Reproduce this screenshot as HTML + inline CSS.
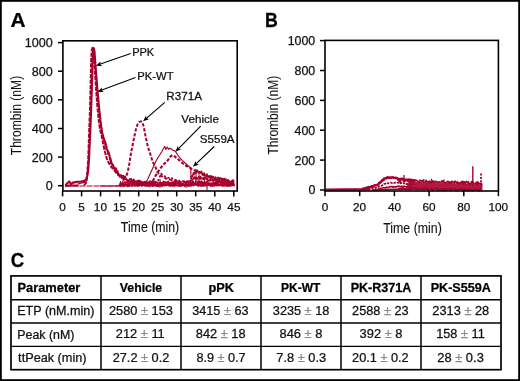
<!DOCTYPE html>
<html><head><meta charset="utf-8"><style>
html,body{margin:0;padding:0;background:#fff;width:520px;height:381px;overflow:hidden;font-family:"Liberation Sans",sans-serif;}
svg{display:block;will-change:transform;}
</style></head><body>
<svg width="520" height="381" viewBox="0 0 520 381">
<rect x="0" y="0" width="520" height="381" fill="#fff"/>
<rect x="0.9" y="0.9" width="518.2" height="379.2" fill="none" stroke="#000" stroke-width="1.8"/>
<g font-family="Liberation Sans, sans-serif">
<text font-size="19.4" font-weight="bold" fill="#000" stroke="#000" stroke-width="0.25" transform="translate(10.48 26.80) scale(1.0771 1.0)">A</text>
<text font-size="19.4" font-weight="bold" fill="#000" stroke="#000" stroke-width="0.25" transform="translate(265.00 26.65) scale(0.9145 1.0)">B</text>
<text font-size="19.4" font-weight="bold" fill="#000" stroke="#000" stroke-width="0.25" transform="translate(10.73 267.10) scale(0.9619 1.0)">C</text>
</g>
<polyline points="65.4,186 78,186 100,186 140,186" fill="none" stroke="#a8002e" stroke-width="1.1" stroke-linejoin="round" stroke-dasharray="6 1"/>
<polyline points="65.4,186.2 69,185.6 75,185.4 78.5,185.6" fill="none" stroke="#a8002e" stroke-width="2.0" stroke-linejoin="round"/>
<polyline points="65.4,185.8 67,183.5 69.2,181.5 70.8,184 73,182.7 77,181.9 80.8,181.5 84.6,180.8 86.3,179.2 87.2,176 88.2,170 88.9,160 89.6,145 90.3,130 90.9,115 91.4,100 91.9,85 92.4,70 92.8,57 93.2,50 93.8,48.2 94.5,52 95.2,62 96.2,75 97.2,88 98.3,100 99.5,112 100.8,124 102.2,133 103.5,138 105,142.1" fill="none" stroke="#a8002e" stroke-width="2.2" stroke-linejoin="round"/>
<polyline points="105,141 105.2,144.8 105.4,142.2 105.6,145.4 105.8,143.7 106,145.2 106.2,149 106.5,146.6 106.7,149.2 107,149.2 107.2,150 107.5,151 107.8,150.6 108.2,154.1 108.5,152 108.8,153.4 109.1,153.5 109.4,155.3 109.7,156.8 110,159.6 110.2,158.3 110.4,158.1 110.6,159.4 110.8,163.2 111,160.3 111.5,163.4 112,163.4 112.5,165.4 113,164.8 113.4,166.9 113.8,166.8 114.3,168.1 114.7,169.8 115.2,169.2 115.6,168.2 116.1,168.6 116.5,172.8 117,171.7 117.6,171.2 118.2,174.9 118.7,174.1 119.5,175.4 120.2,176.8 121,175.1 121.7,175.9 122.4,178.4 123.1,175.8 124.1,178.8 125,176.5 126,179.3 126.9,179.6 127.7,181 128.6,180.9 129.4,179.8 130.3,178.9 131.2,179.1 132,180.9 132.9,181.1 133.7,179.6 134.6,183.1 135.4,181.8 136.3,182.8 137.2,181 138.2,181.3 139.1,180.5 140,182 140.8,181.7 141.6,182.5 142.4,182.3 143.2,184.3 144,184.6 144.9,181.8 145.7,182.8 146.6,181.9 147.4,184 148.3,185.3 149.1,182.3 150,183.6" fill="none" stroke="#a8002e" stroke-width="2.0" stroke-linejoin="round"/>
<polyline points="77.7,184.2 80,183.4 82.3,182.7 85.4,182.3 86.5,180.5 87.2,177" fill="none" stroke="#a8002e" stroke-width="1.4" stroke-linejoin="round"/>
<polyline points="84,185.5 86,183 86.9,178 87.5,170 88.2,160 88.7,145 89.2,130 89.8,115 90.2,100 90.6,85 90.9,70 91.3,57 91.8,50 92.5,47.8 93.4,48.5 94,55 94.7,68 95.6,82 96.5,95 97.5,108 98.7,120 100.1,130 101.5,135 103.3,144.5 105,152 106.8,158.6 108.5,162.5 110.4,165.7 112.5,168.3 114.5,170.5 117,173.5 120,176.5 124,179 128,181 134,183 140,184.5 150,185.3" fill="none" stroke="#a8002e" stroke-width="2.0" stroke-linejoin="round" stroke-dasharray="4.2 1.2"/>
<polyline points="100,186 116,185.9 119.5,185.6 120.6,185.3 122.2,182.5 123.7,179.7" fill="none" stroke="#a8002e" stroke-width="1.1" stroke-linejoin="round"/>
<polyline points="123.7,179.7 125.5,177 126.5,175.7 127.7,171.8 128.9,166.5 130,159.5 131,153 132.4,146 133.6,140 134.8,134.5 136,129 137.4,124.8 139,122.2 140.8,121.3 142.3,122.5 143.4,125.5 144.4,130 145.3,135 146.3,139.8 147.3,144.4 148.6,148.8 149.9,152.8 151.2,157 152.5,161.2 154,164.2 155.6,167.4 157.3,171.7 159.5,174.7 162,176.5 166,178.5 171.6,180 180,182 190,183.6 200,184.6 235,185.3" fill="none" stroke="#a8002e" stroke-width="2.0" stroke-linejoin="round" stroke-dasharray="3.3 1.7"/>
<polyline points="140,184.5 143,184 145.4,183.2 148,178.5 150.5,173 153,167.5 155.5,162 158,157.5 160,154.5 162,151.3 163.5,148.5 164.7,146.3 165.8,149.5 167.2,147 168.5,149.3 170,148.2 171.5,149.3 173,150.2 174.5,150.6 176,152.2 178,155.3 180,158 182.5,160.6 184.5,162.5 186.5,164.3 189,166.5 190.8,168.7 191,180.8" fill="none" stroke="#a8002e" stroke-width="1.15" stroke-linejoin="round"/>
<polyline points="150,185 152.5,181.5 155.2,176.4 157.4,173 159.5,169.5 161.6,166.8 163.8,164.3 165.5,162.5 167.3,160.9 169.5,158 171,156 172.5,155.2 174.5,156.3 176.5,158 178.5,159.6 180.5,161.5 182.9,163.5 185.5,165.3 188,166.9 190.2,167.8 192.4,169.5 195,170.4 198,171.3 201,173.5" fill="none" stroke="#a8002e" stroke-width="2.1" stroke-linejoin="round" stroke-dasharray="3.2 1.7"/>
<polyline points="155,183.5 158,180.5 161.2,173.8 164.3,176 167.9,177.8 171.6,178.2 176,180 181,181 186,181.5 191,181" fill="none" stroke="#a8002e" stroke-width="1.8" stroke-linejoin="round" stroke-dasharray="2 1.8"/>
<polyline points="119,184.4 119.6,184.6 120.1,185.4 120.7,186.2 121.3,184.4 121.9,184.2 122.4,184.5 123,186 123.6,184 124.2,185.9 124.8,185.6 125.3,183.8 125.9,185.1 126.5,184.7 127.1,184.6 127.7,186.4 128.2,183.4 128.8,183.2 129.4,186.1 130,184.3 130.6,183.6 131.1,184 131.7,184.1 132.2,186 132.8,183.6 133.3,183.6 133.9,184.7 134.4,184.6 135,185.9 135.6,185.5 136.1,183.9 136.7,183.4 137.2,185.4 137.8,185.9 138.3,182.8 138.9,185 139.4,185.4 140,184.7 140.6,183.3 141.1,185.2 141.7,185 142.2,183.3 142.8,184.7 143.3,183.4 143.9,182.8 144.4,183.8 145,183.8 145.6,184 146.1,184.8 146.7,185.4 147.2,185.8 147.8,185.9 148.3,185.9 148.9,185.3 149.4,183.8 150,183.4 150.6,184.8 151.1,184.6 151.7,185 152.2,183.1 152.8,183.5 153.3,185.8 153.9,184.8 154.4,185.1 155,183.2 155.6,184.2 156.1,185.8 156.7,185 157.2,186.1 157.8,183.6 158.3,184.4 158.9,185.5 159.4,184.4 160,185.5 160.6,184.8 161.1,183.4 161.7,183.3 162.2,186.1 162.8,183.3 163.3,183.6 163.9,184 164.4,185.2 165,185.6 165.6,184.4 166.1,184.5 166.7,185.4 167.2,183.7 167.8,184 168.3,184.8 168.9,184.9 169.4,182.9 170,183.2 170.6,183.3 171.1,185.1 171.7,185.1 172.2,186 172.8,185.3 173.3,183.7 173.9,185.3 174.4,186 175,184 175.6,182.9 176.1,184.1 176.7,183.8 177.2,183.5 177.8,183.1 178.3,183.4 178.9,185.7 179.4,183.1 180,185 180.6,183.6 181.1,183.6 181.7,185.6 182.2,183.9 182.8,183.5 183.3,184.4 183.9,185.1 184.4,184.6 185,185.7 185.6,184.2 186.1,184.6 186.7,185.2 187.2,184.3 187.8,185.1 188.3,184.3 188.9,183.2 189.4,183.2 190,185.3 190.6,185.2 191.1,185.8 191.7,185 192.2,184.6 192.8,183.3 193.3,185.5 193.9,183.1 194.4,184.1 195,183.2 195.6,183.9 196.1,183.7 196.7,184 197.2,184.9 197.8,184.4 198.3,183.4 198.9,185.1 199.4,185 200,185.2 200.6,182.7 201.1,184.6 201.7,185.5 202.2,183.5 202.8,183.3 203.3,185.3 203.9,183.8 204.4,184 205,185.3 205.6,183.9 206.1,183.4 206.7,183.4 207.2,183.9 207.8,185 208.3,183.9 208.9,185.2 209.4,183 210,183.6 210.6,184.8 211.1,184.3 211.7,184.4 212.2,185.8 212.8,183.7 213.3,183.4 213.9,182.9 214.4,184.3 215,183.8 215.6,184.3 216.1,182.8 216.7,182.8 217.2,184 217.8,185.2 218.3,183.8 218.9,185.7 219.4,184.7 220,184.1 220.6,185.3 221.1,183.5 221.7,184.7 222.2,185.5 222.8,184.5 223.4,183.8 223.9,183.1 224.5,184.6 225,183.4 225.6,184 226.2,184.5 226.7,185.8 227.3,185 227.8,184.5 228.4,185.5 229,183.8 229.5,184 230.1,185 230.6,184.6 231.2,183.5 231.8,184.1 232.3,185.4 232.9,183.6 233.4,185.1 234,184.4" fill="none" stroke="#a8002e" stroke-width="1.7" stroke-linejoin="round"/>
<polyline points="120,183.9 120.6,181.7 121.1,183.6 121.7,184.3 122.2,184.3 122.8,183.1 123.3,183.5 123.9,182.5 124.4,183 125,181.5 125.6,183.5 126.1,183.2 126.7,182 127.2,182.3 127.8,183.6 128.3,182.5 128.9,184.3 129.4,184.3 130,183.8 130.6,181.1 131.1,181.1 131.7,181.8 132.2,182.1 132.8,183.3 133.3,183.8 133.9,182.8 134.4,183.1 135,182.9 135.6,180.9 136.1,182.7 136.7,181.6 137.2,182.3 137.8,180.8 138.3,183.2 138.9,184.1 139.4,181 140,182.9 140.6,180.9 141.1,182.1 141.7,181.4 142.2,184 142.8,183.5 143.3,184.2 143.9,181.7 144.4,183.6 145,183.5 145.6,182.9 146.1,184.3 146.7,183.3 147.2,182.1 147.8,183.7 148.3,182.9 148.9,181.9 149.4,183.4 150,181.4 150.6,182.8 151.1,183.2 151.7,181.2 152.2,183.5 152.8,181.5 153.3,183.5 153.9,182.4 154.4,181.3 155,184.8 155.6,181.4 156.1,181.8 156.7,183 157.2,182.1 157.8,183.1 158.3,182.9 158.9,183.3 159.4,183.2 160,182.3 160.6,182 161.1,183.7 161.7,182.7 162.2,183 162.8,184.4 163.3,181.2 163.9,182.1 164.4,183.1 165,181.3 165.6,183.8 166.1,182.5 166.7,182.2 167.2,181.8 167.8,184.5 168.3,181.2 168.9,184 169.4,183.5 170,184.2 170.6,183.5 171.1,182.2 171.7,182.9 172.2,184.3 172.8,181.1 173.3,184 173.9,183.3 174.4,181.6 175,184.4 175.6,182 176.1,180.9 176.7,181.8 177.2,182.7 177.8,180.9 178.3,183 178.9,182.4 179.4,182 180,183.5 180.6,183 181.1,184.3 181.7,183.9 182.2,183.9 182.8,184.1 183.3,183.8 183.9,182.5 184.4,181 185,182.3 185.6,182.9 186.1,184.2 186.7,183 187.2,182.7 187.8,181 188.3,183 188.9,180.8 189.4,181.1 190,180.8 190.6,183.2 191.1,184 191.7,182.8 192.2,181 192.8,183.3 193.3,181.3 193.9,183.2 194.4,183.1 195,184.1 195.6,181.3 196.1,181.6 196.7,181.9 197.2,181 197.8,184.2 198.3,183 198.9,181.2 199.4,182.5 200,181.2 200.6,184.3 201.1,182.1 201.7,180.9 202.2,183.6 202.8,182.1 203.3,183.3 203.9,183.8 204.4,181.2 205,183 205.6,184.4 206.1,181.9 206.7,182 207.2,183.5 207.8,181.3 208.3,184.1 208.9,184 209.4,184.6 210,184.2 210.6,183.3 211.1,182.9 211.7,183.2 212.2,183.5 212.8,184.8 213.3,181.8 213.9,183.1 214.4,182.9 215,182.2 215.6,181.9 216.1,184.1 216.7,183.4 217.2,183.8 217.8,182.3 218.3,183.1 218.9,182 219.4,181.9 220,181.9 220.6,183.7 221.1,184.5 221.7,183.5 222.2,184.2 222.8,181.7 223.4,183.3 223.9,181.9 224.5,183.3 225,182.3 225.6,182.3 226.2,184.7 226.7,183.4 227.3,182.3 227.8,183.2 228.4,182.4 229,184.3 229.5,182.8 230.1,184.4 230.6,183.5 231.2,183.7 231.8,183.6 232.3,183.5 232.9,181.6 233.4,184.2 234,183.2" fill="none" stroke="#a8002e" stroke-width="1.3" stroke-linejoin="round"/>
<polyline points="140,185.1 140.6,184.8 141.1,184.6 141.7,186.4 142.2,185.6 142.8,185.9 143.3,185.5 143.9,185.1 144.4,186 145,185.6 145.6,186.1 146.1,185.8 146.7,186.2 147.2,185.3 147.8,184.6 148.3,184.6 148.9,185.9 149.4,184.6 150,185.8 150.6,185.7 151.1,184.3 151.7,186.1 152.2,184.3 152.8,186.3 153.3,186.2 153.9,184.7 154.4,185.9 155,186 155.6,184.5 156.1,185.8 156.7,184.5 157.2,186.4 157.8,185.9 158.3,186.6 158.9,184.3 159.4,185 160,185.7 160.6,185.7 161.1,184.6 161.7,186.3 162.2,186.2 162.8,184.9 163.3,184.5 163.9,185.8 164.4,185.2 165,185.8 165.6,185.4 166.1,185.1 166.7,184.2 167.2,184.5 167.8,185.3 168.3,185.9 168.9,185.2 169.4,185.9 170,185.4 170.6,186.3 171.1,185.7 171.7,184.9 172.2,184.5 172.8,184.3 173.3,184.2 173.9,186.2 174.4,186.2 175,185.9 175.6,184.4 176.1,185.7 176.7,184.4 177.2,186.2 177.8,185.7 178.3,185.9 178.9,185.6 179.4,185.1 180,186.1 180.6,186.4 181.1,184.7 181.7,185.1 182.2,185.9 182.8,185.7 183.3,185.1 183.9,185.2 184.4,186.4 185,184.8 185.6,184.6 186.1,185.7 186.7,184.8 187.2,186.3 187.8,184.9 188.3,186.3 188.9,185 189.4,186.2 190,185.9 190.6,185.9 191.1,184.6 191.7,184.5 192.2,184.2 192.8,184.5 193.3,185.7 193.9,184.3 194.4,184.7 195,185.5 195.6,184.5 196.1,184.9 196.7,184.6 197.2,185.7 197.8,184.4 198.3,186.5 198.9,185.5 199.4,185.8 200,185.4 200.6,185.3 201.1,186.4 201.7,186.2 202.2,186.1 202.8,184.2 203.3,185.5 203.9,186.4 204.4,185.6 205,185.3 205.6,185.7 206.1,184.5 206.7,185.8 207.2,186 207.8,184.3 208.3,185.3 208.9,185.5 209.4,184.9 210,185.7 210.6,186.3 211.1,186.3 211.7,184.8 212.2,184.5 212.8,186.1 213.3,185.6 213.9,186.1 214.4,186.2 215,184.8 215.6,185.5 216.1,184.8 216.7,186 217.2,185.8 217.8,184.7 218.3,185.3 218.9,185.5 219.4,184.7 220,184.5 220.6,185.2 221.1,184.3 221.7,185.3 222.2,186.3 222.8,186.1 223.4,184.2 223.9,186.1 224.5,185.8 225,185.8 225.6,184.1 226.2,185.9 226.7,184.5 227.3,186 227.8,184.8 228.4,184.9 229,184.4 229.5,186.1 230.1,184.6 230.6,186.1 231.2,185.3 231.8,184.4 232.3,185.6 232.9,185.3 233.4,184.1 234,185.2" fill="none" stroke="#a8002e" stroke-width="1.2" stroke-linejoin="round"/>
<polyline points="191,176.3 191.3,178.3 191.6,175.9 191.9,176.6 192.1,176.9 192.4,176.9 192.7,175.3 193,175 193.3,172.8 193.6,173.9 193.9,173.3 194.1,174.6 194.4,173 194.7,173.3 195,171.8 195.5,170.8 196,173.1 196.5,173 197,171.3 197.5,170.2 198,171.7 198.5,171.5 199,172.5 199.4,172.1 199.9,172.1 200.3,172.6 200.8,172.2 201.2,171.3 201.7,171.6 202.1,175 202.6,174.9 203,173.3 203.5,175.6 204,174.5 204.5,173.1 205,176 205.5,175.2 206,176.7 206.5,176 207,174 207.5,176.1 208,176.9 208.5,177.5 209,175.7 209.5,176.6 210,177.4 210.5,175.7 211,178.4 211.5,178.3 212,175.9 212.5,178 213,177.3 213.5,176.7 214,178.4 214.5,179.8 215,178.4 215.5,177 216,178.5 216.5,179.6 217,180.4 217.5,179.6 218,177.3 218.5,180.8 219,179.6 219.5,177.8 220,178 220.5,178 221,180.2 221.5,178.4 222,180.9 222.5,178.4 223,180.1 223.5,179.8 224,178.5 224.5,178.4 225,181.8 225.5,182.1 226,179.1 226.5,181.4 227,182.4 227.5,182.1 228,182.1 228.5,180.2 229,181.7 229.5,180.9 230,182.6 230.5,181.8 231,182.4 231.5,182.5 232,180.8 232.5,182.1 233,179.9 233.5,180.4 234,181.5" fill="none" stroke="#a8002e" stroke-width="1.5" stroke-linejoin="round"/>
<polyline points="191,180.5 191.4,180.5 191.8,180.3 192.2,179.6 192.7,179.9 193.1,179.2 193.5,177.8 193.9,178.7 194.3,177.1 194.8,177.1 195.2,177.3 195.6,179.3 196,177.4 196.5,177.7 197,178.9 197.5,178.9 198,177.9 198.5,176.8 199,177.8 199.5,177.3 200,179.3 200.5,176.4 201,177.5 201.5,178.6 202,178.3 202.5,178.3 203,179.1 203.5,177.5 204,179.6 204.5,180 205,177.3 205.5,178.3 206,178.6 206.5,178.8 207,179.4 207.5,178.6 208,180 208.5,180.8 209,181 209.5,180.8 210,178.8 210.5,180.6 211,180.7 211.5,180.3 212,180.6 212.5,179.4 213,181 213.5,179.4 214,180.4 214.5,179.5 215,180.5 215.5,179 216,179.9 216.5,181.4 217,179.8 217.5,181.4 218,181.7 218.5,181.1 219,181.2 219.5,179.9 220,180.9 220.5,182.4 221,182.6 221.5,181.2 222,180.9 222.5,182.7 223,181.4 223.5,182.2 224,180 224.5,180.6 225,182.4 225.5,181.6 226,182.4 226.5,181.3 227,182.9 227.5,180.1 228,180.9 228.5,182.2 229,181.8 229.5,182.4 230,181.8 230.5,182.6 231,182.9 231.5,181.4 232,180.5 232.5,181.2 233,181.6 233.5,183.7 234,182.2" fill="none" stroke="#a8002e" stroke-width="1.5" stroke-linejoin="round"/>
<line x1="207" y1="177" x2="207" y2="190" stroke="#a8002e" stroke-width="1.1"/>
<line x1="196" y1="169" x2="196" y2="181" stroke="#a8002e" stroke-width="1.1"/>
<line x1="199" y1="171" x2="199" y2="183" stroke="#a8002e" stroke-width="1.1"/>
<line x1="186" y1="181" x2="186" y2="188" stroke="#a8002e" stroke-width="1.1"/>
<line x1="160" y1="179" x2="160" y2="188" stroke="#a8002e" stroke-width="1.1"/>
<line x1="150" y1="180" x2="150" y2="187.5" stroke="#a8002e" stroke-width="1.1"/>
<line x1="217" y1="177" x2="217" y2="186" stroke="#a8002e" stroke-width="1.1"/>
<line x1="228" y1="179" x2="228" y2="187" stroke="#a8002e" stroke-width="1.1"/>
<g stroke="#000" fill="none">
<rect x="62.9" y="40.8" width="174.3" height="150.2" stroke-width="1.6"/>
<line x1="58" y1="185.7" x2="62.9" y2="185.7" stroke-width="1.5"/>
<line x1="58" y1="157.1" x2="62.9" y2="157.1" stroke-width="1.5"/>
<line x1="58" y1="128.5" x2="62.9" y2="128.5" stroke-width="1.5"/>
<line x1="58" y1="99.8" x2="62.9" y2="99.8" stroke-width="1.5"/>
<line x1="58" y1="71.2" x2="62.9" y2="71.2" stroke-width="1.5"/>
<line x1="58" y1="42.6" x2="62.9" y2="42.6" stroke-width="1.5"/>
<line x1="62.6" y1="191.0" x2="62.6" y2="196.4" stroke-width="1.5"/>
<line x1="81.6" y1="191.0" x2="81.6" y2="196.4" stroke-width="1.5"/>
<line x1="100.6" y1="191.0" x2="100.6" y2="196.4" stroke-width="1.5"/>
<line x1="119.7" y1="191.0" x2="119.7" y2="196.4" stroke-width="1.5"/>
<line x1="138.7" y1="191.0" x2="138.7" y2="196.4" stroke-width="1.5"/>
<line x1="157.7" y1="191.0" x2="157.7" y2="196.4" stroke-width="1.5"/>
<line x1="176.7" y1="191.0" x2="176.7" y2="196.4" stroke-width="1.5"/>
<line x1="195.7" y1="191.0" x2="195.7" y2="196.4" stroke-width="1.5"/>
<line x1="214.8" y1="191.0" x2="214.8" y2="196.4" stroke-width="1.5"/>
<line x1="233.8" y1="191.0" x2="233.8" y2="196.4" stroke-width="1.5"/>
</g>
<g font-family="Liberation Sans, sans-serif">
<text font-size="12.6" fill="#111" stroke="#111" stroke-width="0.25" transform="translate(45.68 190.15) scale(1.0000 1.0)">0</text>
<text font-size="12.6" fill="#111" stroke="#111" stroke-width="0.25" transform="translate(31.66 161.53) scale(1.0000 1.0)">200</text>
<text font-size="12.6" fill="#111" stroke="#111" stroke-width="0.25" transform="translate(31.66 132.91) scale(1.0000 1.0)">400</text>
<text font-size="12.6" fill="#111" stroke="#111" stroke-width="0.25" transform="translate(31.66 104.29) scale(1.0000 1.0)">600</text>
<text font-size="12.6" fill="#111" stroke="#111" stroke-width="0.25" transform="translate(31.66 75.67) scale(1.0000 1.0)">800</text>
<text font-size="12.6" fill="#111" stroke="#111" stroke-width="0.25" transform="translate(24.65 47.05) scale(1.0000 1.0)">1000</text>
<text font-size="11.8" fill="#111" stroke="#111" stroke-width="0.25" transform="translate(59.32 211.40) scale(1.0000 1.0)">0</text>
<text font-size="11.8" fill="#111" stroke="#111" stroke-width="0.25" transform="translate(78.35 211.40) scale(1.0000 1.0)">5</text>
<text font-size="11.8" fill="#111" stroke="#111" stroke-width="0.25" transform="translate(93.86 211.40) scale(1.0000 1.0)">10</text>
<text font-size="11.8" fill="#111" stroke="#111" stroke-width="0.25" transform="translate(112.90 211.40) scale(1.0000 1.0)">15</text>
<text font-size="11.8" fill="#111" stroke="#111" stroke-width="0.25" transform="translate(132.05 211.40) scale(1.0000 1.0)">20</text>
<text font-size="11.8" fill="#111" stroke="#111" stroke-width="0.25" transform="translate(151.09 211.40) scale(1.0000 1.0)">25</text>
<text font-size="11.8" fill="#111" stroke="#111" stroke-width="0.25" transform="translate(170.16 211.40) scale(1.0000 1.0)">30</text>
<text font-size="11.8" fill="#111" stroke="#111" stroke-width="0.25" transform="translate(189.20 211.40) scale(1.0000 1.0)">35</text>
<text font-size="11.8" fill="#111" stroke="#111" stroke-width="0.25" transform="translate(208.29 211.40) scale(1.0000 1.0)">40</text>
<text font-size="11.8" fill="#111" stroke="#111" stroke-width="0.25" transform="translate(227.33 211.40) scale(1.0000 1.0)">45</text>
<text font-size="14.6" fill="#111" stroke="#111" stroke-width="0.12" transform="translate(120.82 232.40) scale(0.8444 1.0)">Time (min)</text>
<text font-size="14.6" fill="#111" stroke="#111" stroke-width="0.05" transform="translate(20.60 155.27) rotate(-90) scale(0.8307 1)">Thrombin (nM)</text>
</g>
<line x1="130.7" y1="53.4" x2="100.4" y2="64.1" stroke="#000" stroke-width="1.1"/>
<polygon points="95.9,65.7 100.6,61.5 100.2,64.2 102.2,66.0" fill="#000"/>
<line x1="135.5" y1="77.5" x2="101.9" y2="90.0" stroke="#000" stroke-width="1.1"/>
<polygon points="97.4,91.7 102.0,87.4 101.7,90.1 103.7,91.9" fill="#000"/>
<line x1="164.8" y1="102.3" x2="146.7" y2="118.1" stroke="#000" stroke-width="1.1"/>
<polygon points="143.1,121.3 145.9,115.7 146.6,118.3 149.0,119.3" fill="#000"/>
<line x1="200.7" y1="126.1" x2="178.8" y2="148.3" stroke="#000" stroke-width="1.1"/>
<polygon points="175.4,151.7 177.8,145.9 178.6,148.4 181.2,149.3" fill="#000"/>
<line x1="214.3" y1="146.5" x2="196.5" y2="163.4" stroke="#000" stroke-width="1.1"/>
<polygon points="193.0,166.7 195.6,161.0 196.3,163.5 198.9,164.5" fill="#000"/>
<g font-family="Liberation Sans, sans-serif">
<text font-size="11" fill="#111" stroke="#111" stroke-width="0.25" transform="translate(132.19 56.20) scale(1.0015 1.0)">PPK</text>
<text font-size="11" fill="#111" stroke="#111" stroke-width="0.25" transform="translate(137.37 80.20) scale(1.0210 1.0)">PK-WT</text>
<text font-size="11" fill="#111" stroke="#111" stroke-width="0.25" transform="translate(166.34 100.00) scale(1.0577 1.0)">R371A</text>
<text font-size="11" fill="#111" stroke="#111" stroke-width="0.25" transform="translate(181.34 123.00) scale(1.0594 1.0)">Vehicle</text>
<text font-size="11" fill="#111" stroke="#111" stroke-width="0.25" transform="translate(199.78 143.40) scale(1.0552 1.0)">S559A</text>
</g>
<polyline points="325.5,189.6 345,189.5 362,189.3 370,188.8" fill="none" stroke="#a8002e" stroke-width="2.4" stroke-linejoin="round"/>
<polygon points="409,181.4 410.2,181.5 411.5,182 412.8,180.9 414,180.8 415.2,181.7 416.4,181.4 417.6,181.3 418.8,181.5 420,181.4 421.2,181.1 422.5,182.2 423.8,182.9 425,182.5 426.2,182.4 427.5,181.8 428.8,182.1 430,181.5 431.2,182.9 432.5,182 433.8,182 435,183.6 436.2,182.2 437.5,183.7 438.8,182.9 440,183.3 441.2,183 442.5,182.1 443.8,183.3 445,182.4 446.2,182.7 447.5,182.2 448.8,182.1 450,182.8 451.2,182 452.5,182.9 453.8,184 455,184.3 456.2,183.1 457.5,182.5 458.8,183 460,182.4 461.2,182.8 462.5,183.7 463.8,183.8 465,182.5 466.2,183.5 467.5,183.4 468.8,183.4 470,182.9 471.2,183.5 472.5,182.9 473.8,184.2 475,184.1 476.2,184.1 477.5,183.7 478.8,184.9 480,183.6 481.2,183.3 482.5,184 482.5,189.8 409,189.8 406,187.5" fill="#a8002e" fill-opacity="0.9"/>
<polyline points="362,189.1 362.8,188.8 363.6,189.3 364.4,188.7 365.2,188.1 366,188.6 366.8,187.7 367.6,187.5 368.4,187.1 369.2,187.4 370,187.3 370.8,186.9 371.6,186.2 372.4,186.6 373.2,186.4 374,185.6 374.8,185.3 375.6,185.3 376.4,185.3 377.2,184.9 378,184.6 378.6,183.9 379.2,182.9 379.9,182.8 380.5,182.1 381.2,181.6 382,180.8 382.7,179.8 383.4,180.1 384.1,178.8 384.8,178.6 385.8,178.1 386.7,178.3 387.5,177.3 388.4,177.7 389.2,177.9 390,177.5 391,177.9 392,177.4 393,177.5 394,177.7 395,177.9 396,178 397,178 398,179.1 399,179 400.1,179.1 401.2,179 402.1,178.9 403.1,179 404.1,179.9 405,179.9 405.8,179.7 406.7,180 407.5,180.4 408.3,179.5 409.2,180 410,180.1 410.8,180.1 411.7,180.4 412.5,180.2 413.3,180.2 414.2,181 415,180.7" fill="none" stroke="#a8002e" stroke-width="2.6" stroke-linejoin="round"/>
<polyline points="368,189.4 368.8,189.2 369.6,189.5 370.4,189 371.2,189 372,188.8 372.8,188.5 373.6,188.5 374.4,188.5 375.2,187.7 376,187.8 376.8,187.3 377.6,187.3 378.4,186.9 379.2,186.2 380,185.9 380.8,185.8 381.5,185.7 382.2,185.2 383,184.9 383.8,184 384.5,183.9 385.2,183.8 386,183.3 386.8,183 387.6,183.4 388.4,183 389.2,182.7 390,182.6 390.8,182.7 391.7,182.8 392.5,182.8 393.3,182.4 394.2,182.9 395,182.7 395.8,182.4 396.7,182.4 397.5,182.7 398.3,182.6 399.2,183.2 400,182.6 400.8,183.4 401.7,182.9 402.5,183.5 403.3,183.3 404.2,183.2 405,184 405.8,183.6 406.7,184.2 407.5,183.8 408.3,183.8 409.2,184.1 410,184 410.8,184.3 411.7,184.4 412.5,184.4 413.3,183.9 414.2,184.5 415,184.4" fill="none" stroke="#a8002e" stroke-width="1.7" stroke-linejoin="round" stroke-dasharray="2.5 1"/>
<polyline points="372,189.7 372.8,190.1 373.6,190.2 374.4,189.7 375.2,190 376,189.5 376.8,189.5 377.6,189.6 378.4,188.9 379.2,188.6 380,188.5 380.8,188.3 381.6,188.4 382.4,188 383.2,187.8 384,187.8 384.8,187.8 385.6,188 386.4,187.1 387.2,187.5 388,187.5 388.8,187.3 389.6,186.8 390.4,186.7 391.2,186.8 392,186.4 392.9,187.1 393.7,186.9 394.6,186.9 395.4,186.7 396.3,187 397.1,186.5 398,186.1 398.9,186.4 399.8,186.4 400.6,186.7 401.5,186.1 402.4,186.8 403.2,186.4 404.1,186.1 405,186.6 405.9,186.8 406.8,186.7 407.6,186.8 408.5,186.6 409.4,186.6 410.2,186.3 411.1,187.1 412,186.8" fill="none" stroke="#a8002e" stroke-width="1.6" stroke-linejoin="round"/>
<polyline points="376,190 390,189.4 400,189.2 412,189.2" fill="none" stroke="#a8002e" stroke-width="1.6" stroke-linejoin="round"/>
<polyline points="398,179.9 398.5,180.9 399,179 399.5,182.1 400,181.6 400.5,182.2 401,179.9 401.5,179.7 402,179.2 402.5,179.7 403,179.2 403.5,181.3 404,180.3 404.5,181.7 405,181.6 405.5,180.3 406,179.7 406.5,180.3 407,179.3 407.5,181.3 408,179.9 408.5,179.8 409,182.1 409.5,180.7 410,182.4 410.5,182.5 411,181.5 411.5,180.2 412,179.9 412.5,180.2 413,181.8 413.5,181.1 414,180.4 414.5,179.6 415,180.6 415.5,180.8 416,179.8 416.5,180.4 417,180.5 417.5,180.9 418,181.2 418.5,181.5 419,182.4 419.5,180.6 420,180 420.5,180.7 421,180.4 421.5,181.6 422,181.3 422.5,180.8 423,180.1 423.5,182.2 424,181.8 424.5,181.9 425,182.1 425.5,182.6 426,180 426.5,180.5 427,181.5 427.5,182.2 428,181.6 428.5,181.6 429,181 429.5,180.8 430,182.8 430.5,183.2 431,181.7 431.5,181.6 432,180.5 432.5,182.1 433,180.8 433.5,182.2 434,181.1 434.5,181.7 435,183 435.5,181.2 436,182 436.5,181.3 437,181.8 437.5,183.1 438,181.9 438.5,183.4 439,181.7 439.5,181.8 440,182.5 440.5,182 441,182.6 441.5,181.4 442,180.5 442.5,181.8 443,180.7 443.5,181.3 444,182.4 444.5,182.7 445,183.5 445.5,182.7 446,182.4 446.5,181.7 447,182.1 447.5,181.5 448,181 448.5,182.4 449,182.7 449.5,181.7 450,183.1 450.5,182.4 451,181.7 451.5,183.5 452,180.8 452.5,181.6 453,181.8 453.5,183 454,181.6 454.5,184 455,181.2 455.5,182.3 456,182.4 456.5,183.3 457,181.7 457.5,181.4 458,183.3 458.5,183.5 459,182.8 459.5,183.9 460,182.3 460.5,182.5 461,182.6 461.5,181.4 462,183.7 462.5,181.3 463,181.3 463.5,184 464,182.6 464.5,181.6 465,184 465.5,181.8 466,182.6 466.5,181.2 467,181.6 467.5,182.7 468,183.5 468.5,181.6 469,183.7 469.5,183.3 470,183.4 470.5,184.4 471,182.8 471.5,181.3 472,181.5 472.5,184.1 473,181.7 473.5,182.2 474,183.5 474.5,183.8 475,183.8 475.5,183.2 476,182.5 476.5,184.3 477,181.5 477.5,182.3 478,184.6 478.5,182.1 479,184.2 479.5,183.5 480,183.6 480.5,183.6 481,183 481.5,184.3 482,183.2" fill="none" stroke="#a8002e" stroke-width="1.3" stroke-linejoin="round"/>
<polyline points="398,188.1 398.5,188.5 399,188.7 399.5,188.5 400,188.7 400.5,188.5 401,188.6 401.5,188 402,187.8 402.5,188.1 403,189.2 403.5,187.7 404,188.3 404.5,188.5 405,188.8 405.5,188.5 406,189.4 406.5,189.6 407,188.8 407.5,188.1 408,189.5 408.5,189.4 409,188.7 409.5,189.4 410,189.5 410.5,189.7 411,188.3 411.5,188.2 412,189.4 412.5,188.4 413,188.4 413.5,188 414,189.4 414.5,188.3 415,188.2 415.5,189.1 416,188.1 416.5,189.5 417,188.1 417.5,189.9 418,188.2 418.5,188.3 419,188.9 419.5,189.5 420,189 420.5,189.4 421,188.5 421.5,189.7 422,188.4 422.5,188.9 423,189.7 423.5,188.9 424,188.2 424.5,189.5 425,188.3 425.5,188.9 426,188.8 426.5,189.1 427,188.4 427.5,190 428,189.8 428.5,189.3 429,188.8 429.5,189 430,188.7 430.5,189 431,189.2 431.5,189.7 432,188.4 432.5,190.1 433,190.1 433.5,189.3 434,189.4 434.5,188.5 435,188.7 435.5,188.4 436,188.5 436.5,189.8 437,188.7 437.5,189.7 438,189.9 438.5,189.2 439,189.7 439.5,189.6 440,189.6 440.5,189.6 441,189.7 441.5,188.7 442,190.4 442.5,188.8 443,188.7 443.5,188.9 444,190.1 444.5,190.4 445,190.4 445.5,188.7 446,189.2 446.5,190 447,188.7 447.5,189.3 448,189.6 448.5,189 449,189.1 449.5,189.4 450,188.8 450.5,190.3 451,189.5 451.5,188.9 452,189.5 452.5,189.3 453,189.8 453.5,188.7 454,189.3 454.5,188.7 455,189.7 455.5,189.5 456,190.1 456.5,189.8 457,189.6 457.5,189.8 458,189.2 458.5,189.6 459,189.4 459.5,189.5 460,189.4 460.5,188.6 461,189 461.5,189.8 462,188.9 462.5,189.4 463,190.2 463.5,189.6 464,190.2 464.5,189.3 465,188.6 465.5,189.5 466,190.2 466.5,189.6 467,189.4 467.5,190.4 468,189.4 468.5,190.5 469,190.1 469.5,189.1 470,190 470.5,190 471,189.9 471.5,190.1 472,189.5 472.5,190.2 473,189.9 473.5,190.3 474,190.3 474.5,189.9 475,189.8 475.5,189.2 476,188.9 476.5,189.7 477,189.7 477.5,189.5 478,189.8 478.5,190.5 479,190.5 479.5,190.6 480,189 480.5,189.2 481,190.5 481.5,190.5 482,189.8" fill="none" stroke="#a8002e" stroke-width="1.5" stroke-linejoin="round"/>
<line x1="404.0" y1="174.9" x2="404.0" y2="181" stroke="#a8002e" stroke-width="1.3"/>
<line x1="423.8" y1="179.0" x2="423.8" y2="183" stroke="#a8002e" stroke-width="1.3"/>
<line x1="431.5" y1="178.8" x2="431.5" y2="183" stroke="#a8002e" stroke-width="1.3"/>
<line x1="411" y1="178.5" x2="411" y2="182" stroke="#a8002e" stroke-width="1.3"/>
<line x1="444" y1="179.5" x2="444" y2="183" stroke="#a8002e" stroke-width="1.3"/>
<line x1="455" y1="180.5" x2="455" y2="183.5" stroke="#a8002e" stroke-width="1.3"/>
<line x1="463" y1="180.8" x2="463" y2="184" stroke="#a8002e" stroke-width="1.3"/>
<line x1="472.8" y1="166.2" x2="472.8" y2="186" stroke="#a8002e" stroke-width="1.4"/>
<line x1="481.0" y1="173.5" x2="481.0" y2="186" stroke="#a8002e" stroke-width="1.8" stroke-dasharray="2 1.4"/>
<g stroke="#000" fill="none">
<rect x="325.0" y="40.4" width="173.4" height="150.6" stroke-width="1.6"/>
<line x1="320" y1="190.0" x2="325.0" y2="190.0" stroke-width="1.5"/>
<line x1="320" y1="160.1" x2="325.0" y2="160.1" stroke-width="1.5"/>
<line x1="320" y1="130.2" x2="325.0" y2="130.2" stroke-width="1.5"/>
<line x1="320" y1="100.4" x2="325.0" y2="100.4" stroke-width="1.5"/>
<line x1="320" y1="70.5" x2="325.0" y2="70.5" stroke-width="1.5"/>
<line x1="320" y1="40.6" x2="325.0" y2="40.6" stroke-width="1.5"/>
<line x1="325.0" y1="191.0" x2="325.0" y2="196.2" stroke-width="1.5"/>
<line x1="359.7" y1="191.0" x2="359.7" y2="196.2" stroke-width="1.5"/>
<line x1="394.4" y1="191.0" x2="394.4" y2="196.2" stroke-width="1.5"/>
<line x1="429.1" y1="191.0" x2="429.1" y2="196.2" stroke-width="1.5"/>
<line x1="463.8" y1="191.0" x2="463.8" y2="196.2" stroke-width="1.5"/>
<line x1="498.4" y1="191.0" x2="498.4" y2="196.2" stroke-width="1.5"/>
</g>
<g font-family="Liberation Sans, sans-serif">
<text font-size="12.4" fill="#111" stroke="#111" stroke-width="0.25" transform="translate(308.38 194.40) scale(1.0000 1.0)">0</text>
<text font-size="12.4" fill="#111" stroke="#111" stroke-width="0.25" transform="translate(294.59 164.52) scale(1.0000 1.0)">200</text>
<text font-size="12.4" fill="#111" stroke="#111" stroke-width="0.25" transform="translate(294.59 134.64) scale(1.0000 1.0)">400</text>
<text font-size="12.4" fill="#111" stroke="#111" stroke-width="0.25" transform="translate(294.59 104.76) scale(1.0000 1.0)">600</text>
<text font-size="12.4" fill="#111" stroke="#111" stroke-width="0.25" transform="translate(294.59 74.88) scale(1.0000 1.0)">800</text>
<text font-size="12.4" fill="#111" stroke="#111" stroke-width="0.25" transform="translate(287.69 45.00) scale(1.0000 1.0)">1000</text>
<text font-size="11.8" fill="#111" stroke="#111" stroke-width="0.25" transform="translate(321.72 211.40) scale(1.0000 1.0)">0</text>
<text font-size="11.8" fill="#111" stroke="#111" stroke-width="0.25" transform="translate(353.06 211.40) scale(1.0000 1.0)">20</text>
<text font-size="11.8" fill="#111" stroke="#111" stroke-width="0.25" transform="translate(387.91 211.40) scale(1.0000 1.0)">40</text>
<text font-size="11.8" fill="#111" stroke="#111" stroke-width="0.25" transform="translate(422.43 211.40) scale(1.0000 1.0)">60</text>
<text font-size="11.8" fill="#111" stroke="#111" stroke-width="0.25" transform="translate(457.17 211.40) scale(1.0000 1.0)">80</text>
<text font-size="11.8" fill="#111" stroke="#111" stroke-width="0.25" transform="translate(488.38 211.40) scale(1.0000 1.0)">100</text>
<text font-size="14.6" fill="#111" stroke="#111" stroke-width="0.12" transform="translate(383.22 232.60) scale(0.8473 1.0)">Time (min)</text>
<text font-size="14.6" fill="#111" stroke="#111" stroke-width="0.05" transform="translate(278.00 154.57) rotate(-90) scale(0.8233 1)">Thrombin (nM)</text>
</g>
<g stroke="#000" fill="none">
<line x1="101" y1="275.9" x2="101" y2="369.7" stroke-width="1.5"/>
<line x1="181" y1="275.9" x2="181" y2="369.7" stroke-width="1.5"/>
<line x1="261" y1="275.9" x2="261" y2="369.7" stroke-width="1.5"/>
<line x1="341" y1="275.9" x2="341" y2="369.7" stroke-width="1.5"/>
<line x1="421" y1="275.9" x2="421" y2="369.7" stroke-width="1.5"/>
<line x1="11" y1="299.7" x2="501" y2="299.7" stroke-width="1.4"/>
<line x1="11" y1="323.0" x2="501" y2="323.0" stroke-width="1.4"/>
<line x1="11" y1="346.4" x2="501" y2="346.4" stroke-width="1.4"/>
<rect x="11" y="275.9" width="490" height="93.8" stroke-width="1.7"/>
</g>
<g font-family="Liberation Sans, sans-serif">
<text font-size="12.4" font-weight="bold" fill="#000" stroke="#000" stroke-width="0.25" transform="translate(17.43 291.60) scale(1.0381 1.0)">Parameter</text>
<text font-size="12.4" font-weight="bold" fill="#000" stroke="#000" stroke-width="0.25" transform="translate(119.81 291.60) scale(0.9920 1.0)">Vehicle</text>
<text font-size="12.4" font-weight="bold" fill="#000" stroke="#000" stroke-width="0.25" transform="translate(208.45 291.60) scale(1.0313 1.0)">pPK</text>
<text font-size="12.4" font-weight="bold" fill="#000" stroke="#000" stroke-width="0.25" transform="translate(280.99 291.60) scale(0.9681 1.0)">PK-WT</text>
<text font-size="12.4" font-weight="bold" fill="#000" stroke="#000" stroke-width="0.25" transform="translate(350.65 291.60) scale(1.0123 1.0)">PK-R371A</text>
<text font-size="12.4" font-weight="bold" fill="#000" stroke="#000" stroke-width="0.25" transform="translate(430.65 291.60) scale(1.0156 1.0)">PK-S559A</text>
<text font-size="12" fill="#111" stroke="#111" stroke-width="0.25" transform="translate(17.26 315.30) scale(1.0464 1.0)">ETP (nM.min)</text>
<text font-size="12" fill="#111" stroke="#111" stroke-width="0.25" transform="translate(17.28 338.50) scale(1.0334 1.0)">Peak (nM)</text>
<text font-size="12" fill="#111" stroke="#111" stroke-width="0.25" transform="translate(18.11 362.00) scale(1.0586 1.0)">ttPeak (min)</text>
<text font-size="12" fill="#111" stroke="#111" stroke-width="0.25" transform="translate(108.96 315.10) scale(1.0672 1.0)">2580 <tspan fill="#8a8a8a" stroke="#8a8a8a">±</tspan> 153</text>
<text font-size="12" fill="#111" stroke="#111" stroke-width="0.25" transform="translate(192.21 315.10) scale(1.0573 1.0)">3415 <tspan fill="#8a8a8a" stroke="#8a8a8a">±</tspan> 63</text>
<text font-size="12" fill="#111" stroke="#111" stroke-width="0.25" transform="translate(272.81 315.10) scale(1.0592 1.0)">3235 <tspan fill="#8a8a8a" stroke="#8a8a8a">±</tspan> 18</text>
<text font-size="12" fill="#111" stroke="#111" stroke-width="0.25" transform="translate(352.06 315.10) scale(1.0619 1.0)">2588 <tspan fill="#8a8a8a" stroke="#8a8a8a">±</tspan> 23</text>
<text font-size="12" fill="#111" stroke="#111" stroke-width="0.25" transform="translate(432.36 315.10) scale(1.0677 1.0)">2313 <tspan fill="#8a8a8a" stroke="#8a8a8a">±</tspan> 28</text>
<text font-size="12" fill="#111" stroke="#111" stroke-width="0.25" transform="translate(115.76 338.40) scale(1.0707 1.0)">212 <tspan fill="#8a8a8a" stroke="#8a8a8a">±</tspan> 11</text>
<text font-size="12" fill="#111" stroke="#111" stroke-width="0.25" transform="translate(195.84 338.40) scale(1.0665 1.0)">842 <tspan fill="#8a8a8a" stroke="#8a8a8a">±</tspan> 18</text>
<text font-size="12" fill="#111" stroke="#111" stroke-width="0.25" transform="translate(279.54 338.40) scale(1.0747 1.0)">846 <tspan fill="#8a8a8a" stroke="#8a8a8a">±</tspan> 8</text>
<text font-size="12" fill="#111" stroke="#111" stroke-width="0.25" transform="translate(359.60 338.40) scale(1.0730 1.0)">392 <tspan fill="#8a8a8a" stroke="#8a8a8a">±</tspan> 8</text>
<text font-size="12" fill="#111" stroke="#111" stroke-width="0.25" transform="translate(436.23 338.40) scale(1.0602 1.0)">158 <tspan fill="#8a8a8a" stroke="#8a8a8a">±</tspan> 11</text>
<text font-size="12" fill="#111" stroke="#111" stroke-width="0.25" transform="translate(112.66 361.80) scale(1.0634 1.0)">27.2 <tspan fill="#8a8a8a" stroke="#8a8a8a">±</tspan> 0.2</text>
<text font-size="12" fill="#111" stroke="#111" stroke-width="0.25" transform="translate(196.45 361.80) scale(1.0551 1.0)">8.9 <tspan fill="#8a8a8a" stroke="#8a8a8a">±</tspan> 0.7</text>
<text font-size="12" fill="#111" stroke="#111" stroke-width="0.25" transform="translate(276.34 361.80) scale(1.0686 1.0)">7.8 <tspan fill="#8a8a8a" stroke="#8a8a8a">±</tspan> 0.3</text>
<text font-size="12" fill="#111" stroke="#111" stroke-width="0.25" transform="translate(352.06 361.80) scale(1.0634 1.0)">20.1 <tspan fill="#8a8a8a" stroke="#8a8a8a">±</tspan> 0.2</text>
<text font-size="12" fill="#111" stroke="#111" stroke-width="0.25" transform="translate(437.25 361.80) scale(1.0767 1.0)">28 <tspan fill="#8a8a8a" stroke="#8a8a8a">±</tspan> 0.3</text>
</g>
</svg>
</body></html>
